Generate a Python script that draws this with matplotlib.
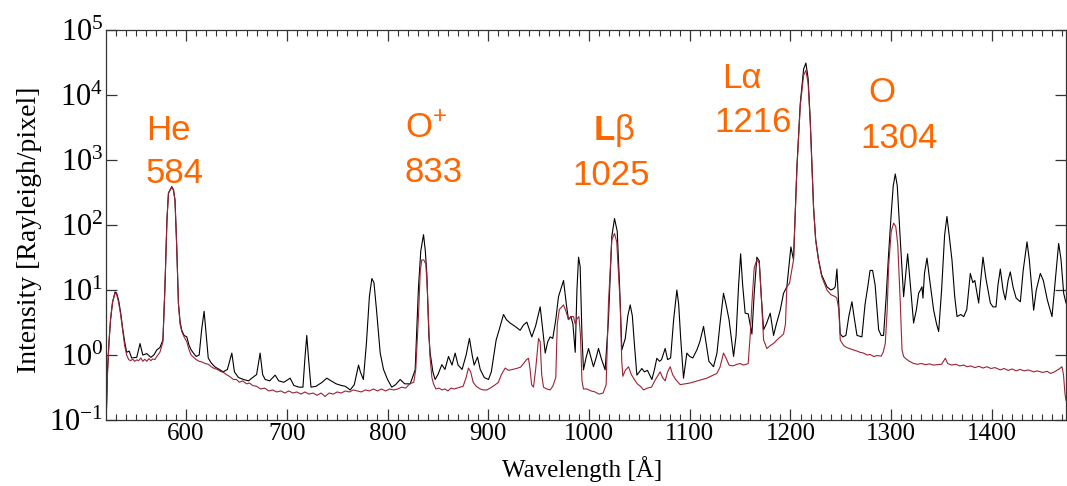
import matplotlib
matplotlib.use("Agg")
import matplotlib.pyplot as plt
from matplotlib.ticker import MultipleLocator, NullLocator, LogLocator

plt.rcParams['font.family'] = ['Liberation Serif', 'DejaVu Serif']
plt.rcParams['mathtext.fontset'] = 'custom'
plt.rcParams['mathtext.rm'] = 'Liberation Sans'
plt.rcParams['mathtext.it'] = 'Liberation Sans:italic'
plt.rcParams['mathtext.bf'] = 'Liberation Sans:bold'

# ---- data: black spectrum ----
wl_black = [521, 522, 523.5, 525, 527, 529.5, 531, 533, 535, 537, 539, 541, 543.5, 546, 551, 554.3,
            557, 561, 565, 568, 571, 574, 577, 579, 581, 582.5, 585.8, 587.5, 589, 590.7, 592.4, 594,
            595.7, 598, 600.7, 603, 605, 607.3, 610, 613, 615.5, 617.9, 619.5, 622, 625, 629, 633, 637,
            641, 645.4, 648, 652, 657, 662, 666, 670, 673.5, 676, 678.5, 683, 688.4, 692, 697, 703.3,
            707, 712, 716, 718, 719.8, 721.5, 724, 729, 735, 739.7, 744, 749, 754, 758, 762.9, 767,
            771.2, 773, 776, 779, 782, 784.4, 786.5, 789, 792.7, 796, 800, 804.2, 808, 812.5, 817,
            822.5, 827.4, 830.7, 833, 835.7, 837.5, 839, 841, 842.3, 845, 847.2, 850, 853.9, 857,
            860.5, 864, 867.1, 870, 874, 878, 881.3, 884, 886, 889.3, 892, 896, 900.2, 903, 907.8,
            911, 915.1, 918, 921.7, 926, 931.6, 935, 938.3, 941, 943.2, 947, 951.5, 954, 956.5, 959,
            961.4, 964, 967, 969.7, 974.7, 977.5, 979.6, 982, 984, 986.3, 988, 989.6, 991.2, 993,
            994.5, 997, 999.5, 1002, 1004.4, 1007, 1009.4, 1012, 1016, 1019.3, 1022.6, 1025.3, 1028,
            1030.5, 1032.6, 1036, 1038.5, 1040.9, 1043, 1045, 1047.5, 1050, 1052.4, 1055, 1058,
            1062.4, 1065, 1067.3, 1070, 1072, 1075.6, 1078, 1081, 1084, 1087.2, 1089, 1091, 1093.8,
            1097.1, 1100, 1103, 1107.1, 1110, 1113.7, 1116, 1119, 1123.6, 1127, 1130, 1133.5, 1136,
            1139, 1143.5, 1146, 1148.5, 1150.5, 1152.5, 1155, 1158, 1161.7, 1164, 1166.6, 1169, 1171,
            1173.3, 1176, 1179.9, 1183.2, 1186, 1189.8, 1193.1, 1196.4, 1198, 1200.4, 1203, 1206.4,
            1209.7, 1213, 1215.3, 1217.5, 1219.6, 1222.9, 1225, 1227.9, 1231, 1236.2, 1240, 1243,
            1244.4, 1246.1, 1247.5, 1249.4, 1252, 1255, 1258, 1261, 1263, 1266, 1270.9, 1274, 1277,
            1279, 1281.5, 1284, 1287.5, 1290, 1292.4, 1295, 1297.4, 1300, 1302, 1304, 1306, 1309,
            1312.3, 1314, 1316.3, 1319, 1322.2, 1325, 1327.2, 1329, 1330.5, 1331.5, 1333, 1335.5,
            1338, 1342.1, 1345, 1347.1, 1350, 1353, 1355.3, 1357.5, 1360.3, 1363, 1365.3, 1369, 1372,
            1375, 1378.5, 1381, 1383, 1386.8, 1389, 1391.1, 1394, 1398.4, 1401, 1404, 1406, 1408.3,
            1411, 1413.3, 1416, 1418.2, 1421, 1424, 1428.2, 1431, 1434.8, 1437, 1441.4, 1444, 1448,
            1451, 1455, 1459.6, 1462, 1466.2, 1468.5, 1471.2, 1473.5]
int_black = [0.15, 0.6, 1.6, 3.5, 6.5, 9.3, 9.0, 7.0, 4.5, 2.6, 1.6, 1.1, 1.15, 0.9, 0.92, 1.5,
             1.0, 1.05, 0.92, 1.0, 1.2, 1.3, 1.7, 11, 120, 310, 390, 350, 240, 47, 6.2, 3.3,
             2.4, 2.0, 1.9, 1.4, 1.2, 1.07, 0.95, 1.0, 2.5, 4.7, 2.5, 0.9, 0.75, 0.65, 0.6, 0.55,
             0.6, 1.07, 0.55, 0.45, 0.42, 0.4, 0.45, 0.5, 1.07, 0.5, 0.42, 0.4, 0.49, 0.4, 0.38, 0.44,
             0.34, 0.32, 0.32, 0.9, 2.0, 0.9, 0.32, 0.33, 0.38, 0.44, 0.4, 0.36, 0.34, 0.33, 0.29, 0.35,
             0.7, 0.55, 0.42, 1.5, 8, 15, 13, 5, 1.07, 0.6, 0.42, 0.32, 0.35, 0.42, 0.36,
             0.36, 0.59, 11, 40, 71, 40, 17.8, 2.0, 1.07, 0.55, 0.42, 0.5, 0.71, 0.6,
             0.95, 0.7, 1.07, 0.7, 0.6, 1.0, 1.8, 1.0, 0.7, 0.93, 0.6, 0.45, 0.42, 0.55, 1.7,
             2.5, 4.2, 3.5, 3.1, 2.8, 2.4, 2.9, 3.2, 2.4, 1.9, 2.8, 5.5, 2.5, 1.07, 1.6,
             1.9, 1.8, 3.5, 7.9, 14, 6, 3.5, 3.9, 3.0, 1.1, 10, 32, 23, 2,
             0.59, 0.9, 1.26, 0.9, 0.66, 0.9, 1.26, 0.9, 0.59, 3.5, 66, 126, 80,
             10, 1.2, 1.8, 4, 5.9, 4, 1.5, 0.49, 0.55, 0.62, 0.55, 0.58,
             0.42, 0.6, 0.89, 0.8, 0.85, 1.26, 0.85, 0.9, 3.5, 10, 6, 1.8, 0.44,
             1.07, 0.95, 0.9, 1.2, 1.6, 2.75, 1.6, 0.8, 0.66, 1.07, 3, 8.9, 6,
             3.5, 0.95, 2, 12, 36, 12, 4.4, 4.3, 2.1, 9, 32, 28, 8,
             2.45, 3.0, 4.4, 2.0, 3.0, 4.9, 8.9, 11.2, 20, 46, 29, 794,
             7400, 25000, 31000, 18000, 4170, 190, 60, 29, 17, 11.2, 10, 10.5,
             11.2, 21, 8, 2.1, 1.9, 2.0, 4, 6.6, 4, 2, 1.9, 6, 12,
             20, 20, 12, 2.45, 2.0, 2.0, 8, 36, 150, 400, 610, 400, 59,
             7.9, 15, 36, 12, 3.1, 5, 8.9, 10, 11.2, 7.5, 18, 31,
             15, 4.9, 3, 2.3, 10, 70, 135, 70, 29, 8, 3.9, 4.2, 3.9,
             5, 18, 13, 14, 6.3, 15, 32, 15, 6.3, 5.5, 5.5, 12, 21,
             10, 7.1, 14, 19, 11, 7.5, 6.6, 20, 55, 30, 4.9, 10, 18,
             14, 7, 3.9, 10, 52, 30, 8.9, 6.3]

# ---- data: red spectrum ----
wl_red = [520.6, 522, 523.5, 525, 527, 529.5, 531, 533, 535, 537, 539, 541, 543, 545, 547, 549, 551,
          553, 555, 557, 559, 561, 563, 565, 567, 569, 571, 574, 577, 579, 581, 582.5, 585.8, 587.5,
          589, 590.7, 592.4, 594, 595.7, 598, 600.7, 603, 605, 607.3, 610, 613, 616, 619, 622, 625,
          628, 631, 634, 637, 640, 643, 647, 650, 653, 656, 660, 663, 666, 670, 674, 678, 682, 686,
          690, 694, 698, 702, 706, 710, 714, 718, 722, 726, 730, 734, 738, 742, 746, 750, 754, 758,
          762, 766, 770, 774, 778, 782, 786, 790, 794, 798, 802, 806, 810, 814, 818, 822, 826, 828,
          830.7, 832.5, 834, 836, 838, 839.5, 840.6, 842, 844, 845.6, 848, 851, 854, 857, 860, 863,
          866, 869, 872, 875, 878, 880.3, 882.5, 885, 888, 892, 895, 898.6, 902, 906, 910, 913,
          916.8, 920, 924, 928, 932, 935, 938, 939.9, 941.5, 943, 944.9, 947, 949.9, 951.5, 953,
          954.8, 958, 961.4, 964, 967, 968.5, 970.5, 974.7, 977.5, 979.6, 982, 984.6, 986.3, 988,
          990, 991.5, 993, 994.5, 998, 1002, 1006, 1010, 1014, 1017, 1019.3, 1022.6, 1025.3,
          1027.5, 1030.9, 1032.5, 1033.6, 1036, 1039.2, 1042, 1045, 1048, 1051, 1054.1, 1058, 1062,
          1066, 1070.6, 1073, 1075.6, 1078, 1080.6, 1083, 1086, 1090.5, 1095, 1100, 1105, 1110,
          1117, 1122, 1126.9, 1130, 1133.5, 1136, 1139, 1143, 1147, 1150.1, 1153, 1156, 1158, 1160,
          1161.7, 1164, 1166.6, 1169, 1171, 1173.3, 1176.6, 1180, 1183, 1186.5, 1190, 1193.1, 1195,
          1196.4, 1199, 1203, 1206.4, 1209.7, 1213, 1215.3, 1217.5, 1219.6, 1222.9, 1225, 1227.9,
          1231, 1236.2, 1240, 1244.4, 1246, 1248, 1249.4, 1252.7, 1256, 1259, 1262.6, 1266, 1269,
          1272.6, 1276, 1279, 1282.5, 1286, 1290, 1292, 1294.1, 1296, 1297.4, 1300, 1302.4, 1304.5,
          1306.5, 1309, 1310.7, 1312.3, 1314, 1318, 1322.2, 1326, 1330, 1334, 1338, 1342, 1346,
          1350, 1353.7, 1356, 1360, 1364, 1368, 1372, 1375.2, 1379, 1383, 1387, 1391, 1395, 1399,
          1403, 1408.3, 1412, 1416, 1420, 1424, 1428, 1432, 1436, 1441.4, 1445, 1450, 1455, 1458,
          1462, 1466, 1469.5, 1471, 1472.5, 1473.5]
int_red = [0.1, 0.5, 1.6, 3.5, 6.5, 9.0, 8.6, 6.5, 4.2, 2.4, 1.4, 1.0, 0.85, 0.82, 0.86, 0.8, 0.84,
           0.82, 0.9, 0.8, 0.86, 0.8, 0.88, 0.82, 0.87, 0.85, 0.95, 1.1, 1.6, 11, 120, 310, 380, 340,
           240, 47, 6.2, 3.0, 2.3, 1.9, 1.6, 1.2, 1.0, 0.93, 0.85, 0.8, 0.78, 0.74, 0.72, 0.66,
           0.62, 0.6, 0.56, 0.54, 0.5, 0.47, 0.42, 0.42, 0.38, 0.4, 0.36, 0.37, 0.34, 0.33, 0.3, 0.31, 0.28, 0.29,
           0.27, 0.28, 0.26, 0.28, 0.26, 0.27, 0.25, 0.27, 0.25, 0.26, 0.24, 0.26, 0.23, 0.26, 0.25, 0.27, 0.26, 0.28,
           0.27, 0.29, 0.28, 0.27, 0.29, 0.28, 0.3, 0.28, 0.3, 0.28, 0.3, 0.29, 0.3, 0.32, 0.31, 0.36, 0.38, 0.6,
           4, 20, 29, 29, 25, 10, 3.5, 1.0, 0.45, 0.36, 0.3, 0.31, 0.29, 0.3, 0.28, 0.31,
           0.3, 0.31, 0.32, 0.33, 0.45, 0.63, 0.55, 0.38, 0.33, 0.3, 0.29, 0.29, 0.31, 0.34, 0.38, 0.5,
           0.63, 0.58, 0.6, 0.62, 0.65, 0.74, 0.85, 0.89, 0.6, 0.35, 0.32, 0.6, 1.8, 1.6, 0.5,
           0.32, 0.3, 0.29, 0.33, 0.45, 3.0, 5.0, 5.9, 4.5, 3.5, 3.9, 3.9, 3.0, 3.6,
           3.9, 2.0, 0.4, 0.3, 0.3, 0.28, 0.27, 0.25, 0.26, 0.35, 6.3, 59, 74,
           55, 6.3, 0.8, 0.47, 0.58, 0.66, 0.5, 0.42, 0.36, 0.33, 0.29, 0.31, 0.32,
           0.42, 0.55, 0.45, 0.4, 0.55, 0.66, 0.5, 0.42, 0.35, 0.36, 0.37, 0.39, 0.41,
           0.44, 0.48, 0.52, 0.65, 1.07, 0.9, 0.7, 0.68, 0.72, 0.74, 0.7, 0.72, 0.74, 2,
           6.3, 22, 29, 26, 8, 1.7, 1.26, 1.4, 1.5, 1.7, 1.9, 2.1, 3,
           11.2, 12.6, 29, 750, 6800, 20000, 24000, 15000, 3800, 180, 58, 28,
           16, 10, 8.5, 7.9, 7.5, 5, 1.7, 1.4, 1.3, 1.25, 1.2, 1.15, 1.1,
           1.07, 1.0, 1.02, 0.95, 0.98, 0.96, 1.1, 1.5, 5, 23, 80, 107, 95,
           50, 6.3, 1.2, 0.95, 0.89, 0.8, 0.74, 0.72, 0.74, 0.71, 0.73, 0.7, 0.71,
           0.72, 0.89, 0.74, 0.7, 0.72, 0.68, 0.7, 0.66, 0.68, 0.64, 0.67, 0.63, 0.66, 0.62,
           0.64, 0.59, 0.62, 0.58, 0.61, 0.57, 0.6, 0.57, 0.59, 0.55, 0.57, 0.54, 0.56, 0.52,
           0.55, 0.6, 0.66, 0.5, 0.25, 0.2]

# ---- annotations ----
ann_texts = ["He", "584", "O$^{+}$", "833", "$\\mathbf{L}$\u03b2", "1025", "L\u03b1", "1216", "O", "1304"]
ann_xpix = [146, 146, 405, 405, 593, 572, 722, 714, 868, 860]
ann_ypix = [140, 183, 138, 182, 140, 185, 88, 132, 102, 148]

x_ticks = [600, 700, 800, 900, 1000, 1100, 1200, 1300, 1400]

W, H = 1067, 486
fig = plt.figure(figsize=(W / 100, H / 100), dpi=100)
ax = fig.add_axes([106 / W, 66 / H, 960 / W, 390 / H])

ax.plot(wl_black, int_black, color='black', lw=0.8)
ax.plot(wl_red, int_red, color='#9b2335', lw=0.8)

ax.set_yscale('log')
ax.set_xlim(520.5, 1473.5)
ax.set_ylim(0.1, 1e5)
ax.set_xticks(x_ticks)
ax.xaxis.set_minor_locator(MultipleLocator(10))
ax.yaxis.set_major_locator(LogLocator(base=10, numticks=10))
ax.yaxis.set_minor_locator(NullLocator())

ax.tick_params(which='both', direction='in', top=True, right=True, color='#333333')
ax.tick_params(which='major', length=8, width=0.9)
ax.tick_params(which='minor', length=4, width=0.8)
ax.tick_params(axis='x', labelsize=18, pad=2)
ax.tick_params(axis='y', labelsize=22, pad=2)
for sp in ax.spines.values():
    sp.set_color('#333333')
    sp.set_linewidth(0.9)

fig.text(30 / W, 1 - 230 / H, "Intensity [Rayleigh/pixel]", rotation=90,
         ha='center', va='center', fontsize=20)
fig.text(582 / W, 1 - 477 / H, "Wavelength [\u00c5]", ha='center', va='baseline',
         fontsize=18)

for t, xp, yp in zip(ann_texts, ann_xpix, ann_ypix):
    fig.text(xp / W, 1 - yp / H, t, ha='left', va='baseline', fontsize=25,
             color='#ff6600', family=['Liberation Sans', 'DejaVu Sans'])

fig.savefig('out.png', dpi=100)
